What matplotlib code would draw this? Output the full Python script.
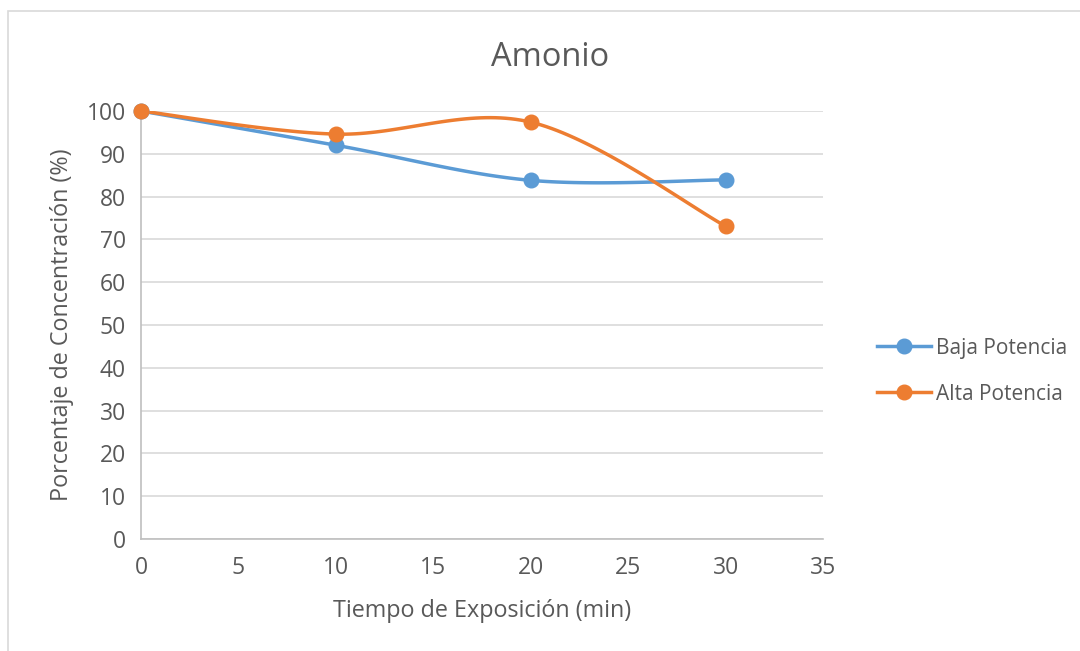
import numpy as np
import matplotlib.pyplot as plt
from matplotlib.lines import Line2D
from matplotlib.patches import Rectangle

# datos
tiempo = [0, 10, 20, 30]
baja = [100, 92.0, 83.8, 83.9]
alta = [100, 94.6, 97.4, 73.1]

azul = '#5B9BD5'
naranja = '#ED7D31'
gris_txt = '#595959'

plt.rcParams['font.family'] = ['Open Sans', 'DejaVu Sans']


def suavizar(x, y, n=40):
  # curva suave tipo Excel (Bezier con puntos de control a 1/6)
  x = np.asarray(x, float)
  y = np.asarray(y, float)
  px, py = [], []
  for i in range(len(x) - 1):
    i0 = max(i - 1, 0)
    i3 = min(i + 2, len(x) - 1)
    c1x = x[i] + (x[i+1] - x[i0]) / 6
    c1y = y[i] + (y[i+1] - y[i0]) / 6
    c2x = x[i+1] - (x[i3] - x[i]) / 6
    c2y = y[i+1] - (y[i3] - y[i]) / 6
    t = np.linspace(0, 1, n)
    bx = (1-t)**3*x[i] + 3*(1-t)**2*t*c1x + 3*(1-t)*t**2*c2x + t**3*x[i+1]
    by = (1-t)**3*y[i] + 3*(1-t)**2*t*c1y + 3*(1-t)*t**2*c2y + t**3*y[i+1]
    px.extend(bx)
    py.extend(by)
  return px, py


fig = plt.figure(figsize=(10.8, 6.51), dpi=100)
W, H = 1080, 651
ax = fig.add_axes([141/W, 1 - 539/H, (823-141)/W, (539-111)/H])

# marco del grafico
fig.patches.append(Rectangle((8/W, -0.05), 1.2, 1 - 11/H + 0.05, transform=fig.transFigure,
                             fill=False, edgecolor='#D9D9D9', linewidth=1.2))

for serie, col in [(baja, azul), (alta, naranja)]:
  sx, sy = suavizar(tiempo, serie)
  ax.plot(sx, sy, color=col, linewidth=2.5, solid_capstyle='round', zorder=3)
  ax.plot(tiempo, serie, 'o', color=col, markersize=10.5, zorder=4, clip_on=False)

ax.set_xlim(0, 35)
ax.set_ylim(0, 100)
ax.set_xticks(range(0, 36, 5))
ax.set_yticks(range(0, 101, 10))
ax.grid(axis='y', color='#D9D9D9', linewidth=1.2)
ax.set_axisbelow(True)
for s in ['top', 'right']:
  ax.spines[s].set_visible(False)
for s in ['left', 'bottom']:
  ax.spines[s].set_color('#BFBFBF')
  ax.spines[s].set_linewidth(1.2)
ax.tick_params(length=0, labelsize=16.5, labelcolor=gris_txt)
ax.tick_params(axis='x', pad=12)
ax.tick_params(axis='y', pad=11)

ax.set_xlabel('Tiempo de Exposición (min)', fontsize=16.8, color=gris_txt, labelpad=14)
ax.set_ylabel('Porcentaje de Concentración (%)', fontsize=16.8, color=gris_txt, labelpad=9)
fig.text(550/W, 1 - 58/H, 'Amonio', fontsize=23.5, color=gris_txt, ha='center', va='center')

handles = [Line2D([], [], color=azul, linewidth=2.5, marker='o', markersize=10.5),
           Line2D([], [], color=naranja, linewidth=2.5, marker='o', markersize=10.5)]
fig.legend(handles, ['Baja Potencia', 'Alta Potencia'], loc='center left',
           bbox_to_anchor=(858/W, 1 - 371/H), frameon=False, fontsize=15,
           labelcolor=gris_txt, handlelength=2.6, handletextpad=0.25, labelspacing=1.2)

fig.savefig('out.png', dpi=100)
